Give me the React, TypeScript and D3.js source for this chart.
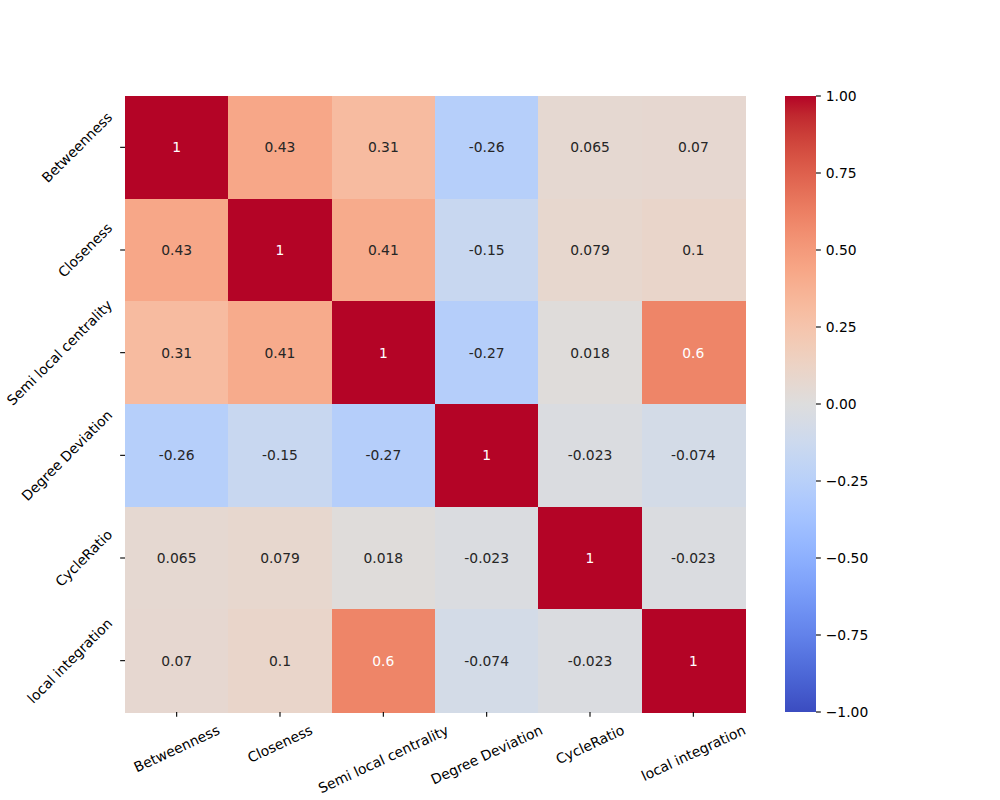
import React, { useEffect, useRef } from "react";
import * as d3 from "d3";

const labels = [
  "Betweenness",
  "Closeness",
  "Semi local centrality",
  "Degree Deviation",
  "CycleRatio",
  "local integration",
];

const rowBetweenness = [1, 0.43, 0.31, -0.26, 0.065, 0.07];
const rowCloseness = [0.43, 1, 0.41, -0.15, 0.079, 0.1];
const rowSemiLocal = [0.31, 0.41, 1, -0.27, 0.018, 0.6];
const rowDegreeDeviation = [-0.26, -0.15, -0.27, 1, -0.023, -0.074];
const rowCycleRatio = [0.065, 0.079, 0.018, -0.023, 1, -0.023];
const rowLocalIntegration = [0.07, 0.1, 0.6, -0.074, -0.023, 1];

const matrix = [
  rowBetweenness,
  rowCloseness,
  rowSemiLocal,
  rowDegreeDeviation,
  rowCycleRatio,
  rowLocalIntegration,
];

const colorbarTicks = [-1, -0.75, -0.5, -0.25, 0, 0.25, 0.5, 0.75, 1];

// matplotlib "coolwarm" (Moreland) table, 33 evenly spaced entries
const coolwarm: [number, number, number][] = [
  [59, 76, 192], [68, 90, 204], [77, 104, 215], [87, 117, 225],
  [98, 130, 234], [108, 142, 241], [119, 154, 247], [130, 165, 251],
  [141, 176, 254], [152, 185, 255], [163, 194, 255], [174, 201, 253],
  [184, 208, 249], [194, 213, 244], [204, 217, 238], [213, 219, 230],
  [221, 221, 221], [229, 216, 209], [236, 211, 197], [241, 204, 184],
  [245, 196, 172], [247, 187, 159], [247, 177, 147], [247, 166, 134],
  [244, 154, 123], [241, 141, 111], [236, 127, 99], [229, 112, 88],
  [222, 96, 77], [213, 80, 66], [203, 62, 56], [192, 40, 47],
  [180, 4, 38],
];

function coolwarmRGB(t: number): [number, number, number] {
  const tt = Math.max(0, Math.min(1, t));
  const pos = tt * (coolwarm.length - 1);
  const i = Math.min(Math.floor(pos), coolwarm.length - 2);
  const f = pos - i;
  const a = coolwarm[i];
  const b = coolwarm[i + 1];
  return [a[0] + (b[0] - a[0]) * f, a[1] + (b[1] - a[1]) * f, a[2] + (b[2] - a[2]) * f];
}

function rgbStr(c: [number, number, number]) {
  return `rgb(${Math.round(c[0])},${Math.round(c[1])},${Math.round(c[2])})`;
}

function luminance(c: [number, number, number]) {
  const lin = c.map((v) => {
    const s = v / 255;
    return s <= 0.03928 ? s / 12.92 : Math.pow((s + 0.055) / 1.055, 2.4);
  });
  return 0.2126 * lin[0] + 0.7152 * lin[1] + 0.0722 * lin[2];
}

const W = 1000;
const H = 800;
const FONT = "'DejaVu Sans', sans-serif";
const FS = 13.89;
const TICK = 4.86;
const PAD = 4.86;
const LINE_H = 16;

export default function App() {
  const ref = useRef<SVGSVGElement | null>(null);

  useEffect(() => {
    const svg = d3.select(ref.current);
    svg.selectAll("*").remove();

    const left = 125, right = 745, top = 96, bottom = 712;
    const cbLeft = 785, cbRight = 816;

    const x = d3.scaleBand<string>().domain(labels).range([left, right]);
    const y = d3.scaleBand<string>().domain(labels).range([top, bottom]);
    const cScale = d3.scaleLinear().domain([-1, 1]).range([0, 1]);
    const cbY = d3.scaleLinear().domain([-1, 1]).range([bottom, top]);

    const annFmt = d3
      .formatLocale({ decimal: ".", thousands: ",", grouping: [3], currency: ["$", ""], minus: "-" })
      .format(".2~g");

    const cells = matrix.flatMap((row, ri) =>
      row.map((v, ci) => ({ v, r: labels[ri], c: labels[ci] }))
    );

    const g = svg.append("g");
    g.selectAll("rect.cell")
      .data(cells)
      .enter()
      .append("rect")
      .attr("x", (d) => x(d.c)!)
      .attr("y", (d) => y(d.r)!)
      .attr("width", x.bandwidth() + 0.5)
      .attr("height", y.bandwidth() + 0.5)
      .attr("fill", (d) => rgbStr(coolwarmRGB(cScale(d.v))))
      .attr("shape-rendering", "crispEdges");

    g.selectAll("text.ann")
      .data(cells)
      .enter()
      .append("text")
      .attr("x", (d) => x(d.c)! + x.bandwidth() / 2)
      .attr("y", (d) => y(d.r)! + y.bandwidth() / 2)
      .attr("text-anchor", "middle")
      .attr("dominant-baseline", "central")
      .attr("font-family", FONT)
      .attr("font-size", FS)
      .attr("fill", (d) => (luminance(coolwarmRGB(cScale(d.v))) > 0.408 ? "#262626" : "#ffffff"))
      .text((d) => annFmt(d.v));

    // x ticks
    labels.forEach((lab) => {
      const cx = x(lab)! + x.bandwidth() / 2;
      g.append("line")
        .attr("x1", cx).attr("x2", cx)
        .attr("y1", bottom).attr("y2", bottom + TICK)
        .attr("stroke", "#000").attr("stroke-width", 1.1);
      const t = g.append("text")
        .attr("text-anchor", "middle")
        .attr("dominant-baseline", "central")
        .attr("font-family", FONT)
        .attr("font-size", FS)
        .attr("fill", "#000")
        .text(lab);
      const L = (t.node() as SVGTextElement).getComputedTextLength();
      const ang = (25 * Math.PI) / 180;
      const bh = L * Math.sin(ang) + LINE_H * Math.cos(ang);
      t.attr("transform", `translate(${cx},${bottom + TICK + PAD + bh / 2}) rotate(-25)`);
    });

    // y ticks
    labels.forEach((lab) => {
      const cy = y(lab)! + y.bandwidth() / 2;
      g.append("line")
        .attr("x1", left - TICK).attr("x2", left)
        .attr("y1", cy).attr("y2", cy)
        .attr("stroke", "#000").attr("stroke-width", 1.1);
      const t = g.append("text")
        .attr("text-anchor", "middle")
        .attr("dominant-baseline", "central")
        .attr("font-family", FONT)
        .attr("font-size", FS)
        .attr("fill", "#000")
        .text(lab);
      const L = (t.node() as SVGTextElement).getComputedTextLength();
      const ang = (45 * Math.PI) / 180;
      const bw = L * Math.cos(ang) + LINE_H * Math.sin(ang);
      t.attr("transform", `translate(${left - TICK - PAD - bw / 2},${cy}) rotate(-45)`);
    });

    // colorbar gradient
    const defs = svg.append("defs");
    const grad = defs.append("linearGradient")
      .attr("id", "cbgrad")
      .attr("x1", 0).attr("y1", 1).attr("x2", 0).attr("y2", 0);
    coolwarm.forEach((c, i) => {
      grad.append("stop")
        .attr("offset", i / (coolwarm.length - 1))
        .attr("stop-color", rgbStr(c));
    });
    g.append("rect")
      .attr("x", cbLeft).attr("y", top)
      .attr("width", cbRight - cbLeft).attr("height", bottom - top)
      .attr("fill", "url(#cbgrad)");

    const cbFmt = d3.format(".2f");
    colorbarTicks.forEach((v) => {
      const yy = cbY(v);
      g.append("line")
        .attr("x1", cbRight).attr("x2", cbRight + TICK)
        .attr("y1", yy).attr("y2", yy)
        .attr("stroke", "#000").attr("stroke-width", 1.1);
      g.append("text")
        .attr("x", cbRight + TICK + PAD)
        .attr("y", yy)
        .attr("dominant-baseline", "central")
        .attr("font-family", FONT)
        .attr("font-size", FS)
        .attr("fill", "#000")
        .text(cbFmt(v));
    });
  }, []);

  return (
    <svg
      ref={ref}
      width={W}
      height={H}
      style={{ position: "absolute", left: 0, top: 0, display: "block", background: "#fff" }}
    />
  );
}
